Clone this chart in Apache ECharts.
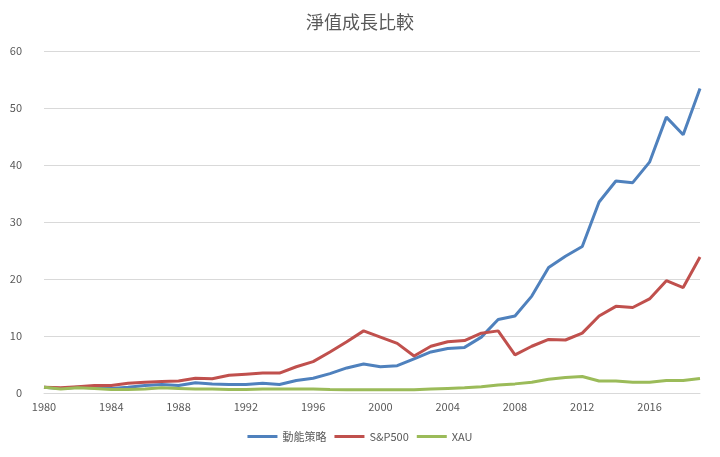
<!DOCTYPE html><html><head><meta charset="utf-8"><script src="https://cdn.jsdelivr.net/npm/echarts@6/dist/echarts.min.js"></script></head><body style="margin:0;background:#fff"><div id="c" style="width:720px;height:457px"></div><script>
const years=[];for(let y=1980;y<=2019;y++)years.push(String(y));
const momentum=[1.0,0.8,1.0,0.9,0.8,1.0,1.3,1.5,1.3,1.8,1.6,1.5,1.5,1.7,1.5,2.2,2.6,3.4,4.4,5.1,4.6,4.8,6.0,7.2,7.8,8.0,9.8,12.9,13.5,17.0,22.0,24.0,25.7,33.5,37.2,36.9,40.5,48.4,45.3,53.43];
const sp500=[1.0,0.9,1.1,1.3,1.3,1.7,1.9,2.0,2.1,2.6,2.5,3.1,3.3,3.5,3.5,4.6,5.5,7.2,9.0,10.9,9.8,8.7,6.5,8.2,9.0,9.2,10.5,10.9,6.7,8.2,9.4,9.3,10.5,13.5,15.2,15.0,16.5,19.7,18.5,23.87];
const xau=[1.0,0.7,0.9,0.8,0.6,0.6,0.7,0.9,0.8,0.7,0.7,0.6,0.6,0.7,0.7,0.7,0.7,0.6,0.55,0.55,0.55,0.55,0.55,0.7,0.8,0.9,1.1,1.4,1.6,1.9,2.4,2.7,2.9,2.1,2.1,1.9,1.9,2.2,2.2,2.56];
const f='"Noto Sans CJK TC","Liberation Sans",sans-serif';
function s(name,data,color){return{name,type:'line',data,symbol:'none',lineStyle:{width:3,color},itemStyle:{color},
 label:{show:true,position:'top',color:'#404040',fontSize:11,fontFamily:f,formatter:p=>p.dataIndex===data.length-1?p.value.toFixed(2):''}};}
const ch=echarts.init(document.getElementById('c'));
ch.setOption({animation:false,
 title:{text:'淨值成長比較',left:'center',top:8,textStyle:{fontFamily:f,fontSize:18,fontWeight:'normal',color:'#595959'}},
 legend:{bottom:10,itemWidth:30,itemHeight:3,icon:'rect',textStyle:{fontFamily:f,fontSize:11,color:'#595959'}},
 grid:{left:44,right:20,top:51,bottom:64},
 xAxis:{type:'category',data:years,boundaryGap:false,axisLine:{lineStyle:{color:'#d9d9d9'}},axisTick:{show:false},
  axisLabel:{interval:3,color:'#595959',fontSize:11,fontFamily:f}},
 yAxis:{type:'value',min:0,max:60,interval:10,axisLabel:{color:'#595959',fontSize:11,fontFamily:f,margin:22},splitLine:{lineStyle:{color:'#d9d9d9'}}},
 series:[s('動能策略',momentum,'#4f81bd'),s('S&P500',sp500,'#c0504d'),s('XAU',xau,'#9bbb59')]});
</script></body></html>
